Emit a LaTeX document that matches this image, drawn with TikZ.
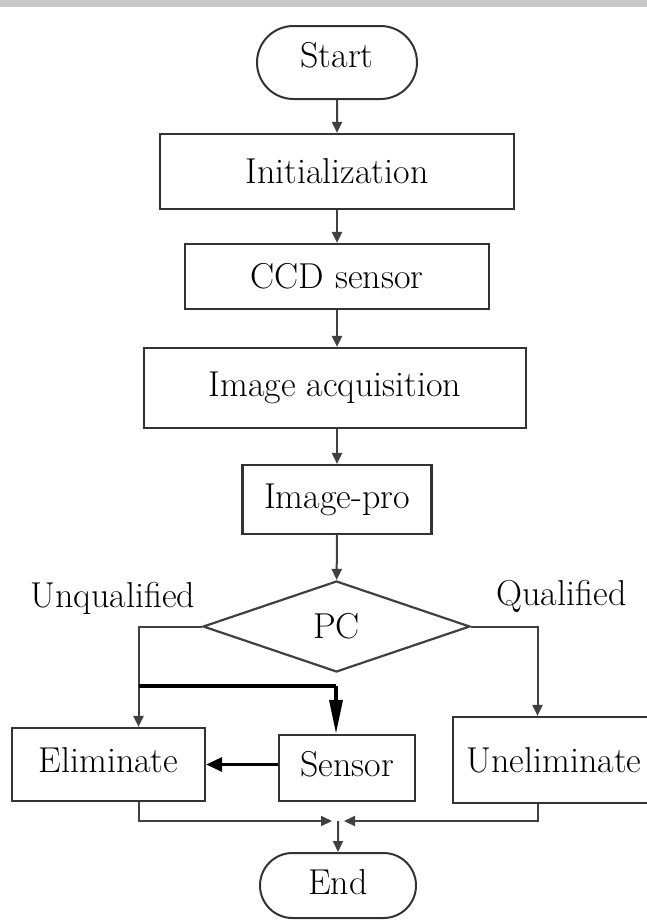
\documentclass[tikz,border=0pt]{standalone}
\usepackage{fontspec}
\usetikzlibrary{arrows.meta,shapes.geometric,shapes.misc}
\newcommand{\flowfont}{\fontsize{36}{40}\selectfont}
\tikzset{
	box/.style={draw=black!80, line width=2.2pt, rectangle, inner sep=0pt, font=\flowfont, text=black},
	term/.style={draw=black!80, line width=2pt, rounded rectangle, inner sep=0pt, font=\flowfont, text=black},
	decide/.style={draw=black!75, line width=2.2pt, diamond, aspect=2.9, inner sep=0pt, font=\flowfont, text=black},
	tag/.style={font=\flowfont, inner sep=0pt, anchor=base, text=black},
	line/.style={draw=black!75, line width=2pt},
	arr/.style={line, -{Triangle[length=11pt,width=10pt]}},
	heavy/.style={draw=black, line width=3.5pt},
}

\begin{document}
\begin{tikzpicture}[x=10pt,y=-10pt]
			%%%%% START %%%%%
			\useasboundingbox (0,0) rectangle (64.7,92.1);
			\fill[black!22] (0,0) rectangle (64.7,0.7);
			
			\node[term, minimum width=160pt, minimum height=73pt, text height=41pt, text depth=32pt] (start) at (33.7, 6.25) {Start};
			\node[box, minimum width=354pt, minimum height=75pt] (init) at (33.7, 17.15) {Initialization};
			\node[box, minimum width=304pt, minimum height=65pt] (ccd) at (33.7, 27.65) {CCD sensor};
			\node[box, minimum width=382pt, minimum height=80pt] (acq) at (33.5, 38.8) {Image acquisition};
			\node[box, minimum width=189pt, minimum height=69pt] (pro) at (33.7, 49.95) {Image-pro};
			\node[decide, minimum width=267pt, minimum height=91pt] (pc) at (33.65, 62.65) {PC};
			
			\node[tag] (unq) at (11.3, 60.7) {Unqualified};
			\node[tag] (qual) at (56.15, 60.5) {Qualified};
			
			\node[box, minimum width=193pt, minimum height=73pt, text height=44pt, text depth=29pt] (elim) at (10.85, 76.45) {Eliminate};
			\node[box, minimum width=136pt, minimum height=66pt, text height=41pt, text depth=25pt] (sensor) at (34.7, 76.8) {Sensor};
			\node[box, minimum width=202pt, minimum height=86pt, text height=55pt, text depth=31pt] (unelim) at (55.4, 76.0) {Uneliminate};
			
			\node[term, minimum width=156pt, minimum height=65pt, text height=41pt, text depth=24pt] (end) at (33.8, 88.55) {End};
			
			% main column
			\draw[arr] (start) -- (init);
			\draw[arr] (init) -- (ccd);
			\draw[arr] (ccd) -- (pro.north |- acq.north);
			\draw[arr] (pro.north |- acq.south) -- (pro);
			\draw[arr] (pro) -- (pc);
			
			% branches
			\coordinate (uqTurn) at (13.85, 62.65);
			\coordinate (qTurn) at (53.75, 62.65);
			\coordinate (split) at (13.85, 68.6);
			\coordinate (sensTurn) at (33.6, 68.6);
			\draw[arr] (pc.west) -- (uqTurn) -- (uqTurn |- elim.north);
			\draw[arr] (pc.east) -- (qTurn) -- (qTurn |- unelim.north);
			\draw[heavy] (split) -- (sensTurn);
			\draw[heavy, -{Triangle[length=34pt,width=13pt]}] (sensTurn) -- (sensTurn |- sensor.north);
			\draw[heavy, line width=3pt, -{Triangle[length=16pt,width=14pt]}] (sensor.west |- elim.east) -- (elim.east);
			
			% join
			\coordinate (merge) at (33.8, 82.1);
			\draw[arr] (elim.south -| uqTurn) |- ([xshift=-6pt]merge);
			\draw[arr] (unelim.south -| qTurn) |- ([xshift=6pt]merge);
			\draw[arr] (merge) -- (end);
			
			%%%%% END %%%%%
\end{tikzpicture}
\end{document}
